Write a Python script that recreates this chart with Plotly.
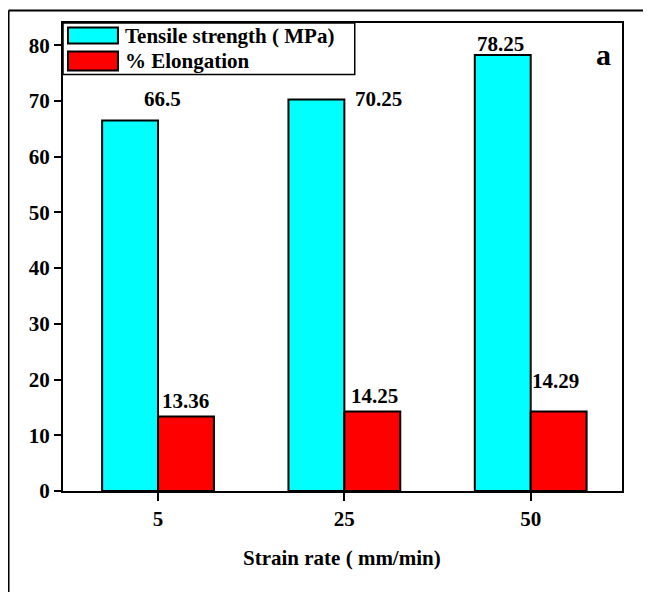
import plotly.graph_objects as go

categories = ["5", "25", "50"]
tensile = [66.5, 70.25, 78.25]
elongation = [13.36, 14.25, 14.29]
tensile_labels = ["66.5", "70.25", "78.25"]
elong_labels = ["13.36", "14.25", "14.29"]
y_ticks = [0, 10, 20, 30, 40, 50, 60, 70, 80]

FONT = "Liberation Serif, Times New Roman, serif"
OFF = 8  # page body margin in the browser
W, H = 651 - OFF, 592 - OFF
# screen-pixel geometry of plot area
SL, SR, ST, SB = 63, 622.5, 22.5, 491.5
L, T = SL - OFF, ST - OFF
R = W - (SR - OFF)
B = H - (SB - OFF)
PW = SR - SL
PH = SB - ST

def px(x):
    return (x - SL) / PW

def py(y):
    return (SB - y) / PH

fig = go.Figure()
fig.add_trace(go.Bar(x=categories, y=tensile, name="Tensile strength ( MPa)",
                     marker=dict(color="#00FFFF", line=dict(color="black", width=2)),
                     showlegend=False))
fig.add_trace(go.Bar(x=categories, y=elongation, name="% Elongation",
                     marker=dict(color="#FF0000", line=dict(color="black", width=2)),
                     showlegend=False))

VS = 21
# value labels (offsets in category units / data units)
t_dx = [0.026, 0.184, -0.161]
t_dy = [3.8, 0.05, 1.95]
e_dx = [0.15, 0.163, 0.133]
e_dy = [2.85, 2.85, 5.5]
ann = []
for i in range(3):
    ann.append(dict(x=i + t_dx[i], y=tensile[i] + t_dy[i], xref="x", yref="y",
                    text="<b>%s</b>" % tensile_labels[i], showarrow=False,
                    xanchor="center", yanchor="middle",
                    font=dict(family=FONT, size=VS, color="black")))
    ann.append(dict(x=i + e_dx[i], y=elongation[i] + e_dy[i], xref="x", yref="y",
                    text="<b>%s</b>" % elong_labels[i], showarrow=False,
                    xanchor="center", yanchor="middle",
                    font=dict(family=FONT, size=VS, color="black")))

ann.append(dict(x=px(604), y=py(54), xref="paper", yref="paper", text="<b>a</b>",
                xanchor="center", yanchor="middle",
                showarrow=False, font=dict(family=FONT, size=30, color="black")))
ann.append(dict(x=px(342), y=py(559), xref="paper", yref="paper",
                text="<b>Strain rate ( mm/min)</b>", showarrow=False,
                xanchor="center", yanchor="middle",
                font=dict(family=FONT, size=VS, color="black")))
# legend texts
ann.append(dict(x=px(123), y=py(35.5), xref="paper", yref="paper", xanchor="left",
                yanchor="middle", text="<b>Tensile strength ( MPa)</b>", showarrow=False,
                font=dict(family=FONT, size=VS, color="black")))
ann.append(dict(x=px(123), y=py(60.5), xref="paper", yref="paper", xanchor="left",
                yanchor="middle", text="<b>% Elongation</b>", showarrow=False,
                font=dict(family=FONT, size=VS, color="black")))

shapes = [
    # outer border (left and top)
    dict(type="line", xref="paper", yref="paper", x0=px(8.5), x1=px(8.5), y0=py(10), y1=py(620),
         line=dict(color="black", width=2)),
    dict(type="line", xref="paper", yref="paper", x0=px(8.5), x1=px(680), y0=py(10), y1=py(10),
         line=dict(color="black", width=2)),
    # legend box
    dict(type="rect", xref="paper", yref="paper", x0=px(63), x1=px(355), y0=py(22.5), y1=py(74),
         line=dict(color="black", width=1.5), fillcolor="white"),
    dict(type="rect", xref="paper", yref="paper", x0=px(68), x1=px(118), y0=py(27), y1=py(43),
         line=dict(color="black", width=2), fillcolor="#00FFFF"),
    dict(type="rect", xref="paper", yref="paper", x0=px(68), x1=px(118), y0=py(51), y1=py(70),
         line=dict(color="black", width=2), fillcolor="#FF0000"),
]

fig.update_layout(
    width=W, height=H,
    margin=dict(l=L, r=R, t=T, b=B, pad=0),
    paper_bgcolor="white", plot_bgcolor="white",
    barmode="group", bargap=0.4, bargroupgap=0,
    annotations=ann, shapes=shapes,
    font=dict(family=FONT, size=16, color="black"),
    xaxis=dict(type="category", range=[-0.51, 2.49], showline=True, linecolor="black",
               linewidth=2, mirror=True, ticks="outside", ticklen=8, tickwidth=2,
               tickcolor="black", showgrid=False, zeroline=False,
               tickfont=dict(family=FONT, size=VS, color="black", weight="bold")),
    yaxis=dict(range=[0, 84], tickvals=y_ticks, showline=True, linecolor="black",
               linewidth=2, mirror=True, ticks="outside", ticklen=7, tickwidth=2,
               tickcolor="black", showgrid=False, zeroline=False,
               tickfont=dict(family=FONT, size=VS, color="black", weight="bold")),
)

fig.write_html("out.html")
